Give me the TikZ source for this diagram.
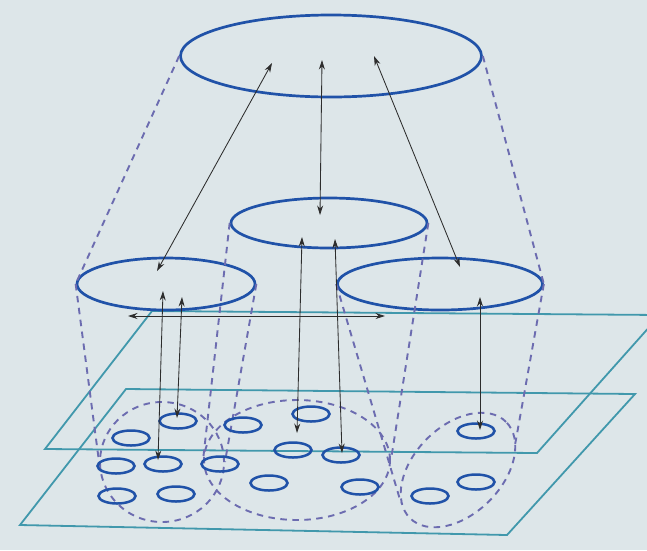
\documentclass[tikz,border=0pt]{standalone}
\usetikzlibrary{shapes.geometric,arrows.meta}
\definecolor{bgcol}{RGB}{221,230,233}
\definecolor{ellblue}{RGB}{32,82,168}
\definecolor{planecol}{RGB}{65,152,172}
\definecolor{dashcol}{RGB}{108,108,176}
\definecolor{arrowcol}{RGB}{45,45,45}
\begin{document}
\begin{tikzpicture}[x=1pt,y=-1pt,
  bigell/.style={draw=ellblue, line width=2.7pt, ellipse, inner sep=0pt},
  smell/.style={draw=ellblue, line width=2.5pt, ellipse, inner sep=0pt, minimum width=37pt, minimum height=15pt},
  grp/.style={draw=dashcol, line width=1.9pt, dash pattern=on 6.5pt off 5.5pt, ellipse, inner sep=0pt},
  guide/.style={draw=dashcol, line width=1.9pt, dash pattern=on 6.5pt off 5.5pt},
  plane/.style={draw=planecol, line width=1.8pt, line join=miter},
  link/.style={draw=arrowcol, line width=0.85pt, {Stealth[length=9.5pt,width=6pt]}-{Stealth[length=9.5pt,width=6pt]}}]
\useasboundingbox (0,0) rectangle (647,550);
\fill[bgcol] (0,0) rectangle (647,550);
% planes
\begin{scope}
\clip (0,0) rectangle (647,550);
\draw[plane] (660,315) -- (152,311) -- (45,449) -- (537,453) -- cycle;
\draw[plane] (126,389) -- (635,394) -- (507,535) -- (20,525) -- cycle;
\end{scope}
% big ellipses
\node[bigell, minimum width=301pt, minimum height=82pt] (top) at (331,56) {};
\node[bigell, minimum width=196pt, minimum height=50pt] (mid) at (329,223) {};
\node[bigell, minimum width=178pt, minimum height=52pt] (left) at (166,284) {};
\node[bigell, minimum width=205pt, minimum height=52pt] (right) at (440,284) {};
% group outlines
\node[grp, minimum width=124pt, minimum height=120pt] (gl) at (162,462) {};
\node[grp, minimum width=186pt, minimum height=120pt] (gm) at (297,460) {};
\node[grp, minimum width=136pt, minimum height=88pt, rotate=45] (gr) at (458,470) {};
\coordinate (grL) at (401,503);
\coordinate (grR) at (515,445);
% guide lines
\draw[guide] (top.west) -- (left.west);
\draw[guide] (top.east) -- (right.east);
\draw[guide] (left.west) -- (gl.west);
\draw[guide] (left.east) -- (gl.east);
\draw[guide] (mid.west) -- (gm.west);
\draw[guide] (mid.east) -- (gm.east);
\draw[guide] (right.west) -- (grL);
\draw[guide] (right.east) -- (grR);
% small ellipses
\node[smell] (s1) at (178,421) {};
\node[smell] (s2) at (131,438) {};
\node[smell] (s3) at (116,466) {};
\node[smell] (s4) at (163,464) {};
\node[smell] (s5) at (117,496) {};
\node[smell] (s6) at (176,494) {};
\node[smell] (s7) at (243,425) {};
\node[smell] (s8) at (311,414) {};
\node[smell] (s9) at (220,464) {};
\node[smell] (s10) at (293,450) {};
\node[smell] (s11) at (341,455) {};
\node[smell] (s12) at (269,483) {};
\node[smell] (s13) at (360,487) {};
\node[smell] (s14) at (476,431) {};
\node[smell] (s15) at (476,482) {};
\node[smell] (s16) at (430,496) {};
% arrow ends
\coordinate (a1t) at (272,63);  \coordinate (a1b) at (157,271);
\coordinate (a2t) at (322,60);  \coordinate (a2b) at (320,215);
\coordinate (a3t) at (374,56);  \coordinate (a3b) at (460,267);
\coordinate (a4t) at (163,291); \coordinate (a4b) at (158,460);
\coordinate (a5t) at (182,297); \coordinate (a5b) at (177,418);
\coordinate (a6t) at (302,237); \coordinate (a6b) at (297,433);
\coordinate (a7t) at (335,239); \coordinate (a7b) at (342,453);
\coordinate (a8t) at (480,297); \coordinate (a8b) at (480,430);
\coordinate (a9l) at (128,316); \coordinate (a9r) at (385,316);
\draw[link] (a1t) -- (a1b);
\draw[link] (a2t) -- (a2b);
\draw[link] (a3t) -- (a3b);
\draw[link] (a4t) -- (a4b);
\draw[link] (a5t) -- (a5b);
\draw[link] (a6t) -- (a6b);
\draw[link] (a7t) -- (a7b);
\draw[link] (a8t) -- (a8b);
\draw[link] (a9l) -- (a9r);
\end{tikzpicture}
\end{document}
